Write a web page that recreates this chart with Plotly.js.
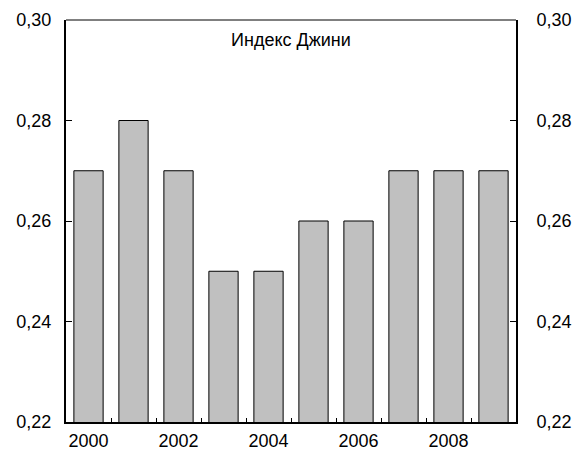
<!DOCTYPE html>
<html>
<head>
<meta charset="utf-8">
<script src="https://cdn.plot.ly/plotly-3.0.1.min.js"></script>
<style>html,body{margin:0;padding:0;background:#fff;}#chart{width:572px;height:452px;}</style>
</head>
<body>
<div id="chart"></div>
<script>
const years = [2000, 2001, 2002, 2003, 2004, 2005, 2006, 2007, 2008, 2009];
const gini = [0.27, 0.28, 0.27, 0.25, 0.25, 0.26, 0.26, 0.27, 0.27, 0.27];
const xTickVals = [2000, 2002, 2004, 2006, 2008];
const yTickVals = [0.22, 0.24, 0.26, 0.28, 0.30];
const chartTitle = 'Индекс Джини';

const fam = '"Liberation Sans", Arial, sans-serif';
const font = {family: fam, size: 18, color: '#000'};
const xRange = [years[0] - 0.5, years[years.length - 1] + 0.5];

const traces = [
  {
    type: 'bar', x: years, y: gini,
    width: 0.65,
    marker: {color: '#c0c0c0', line: {color: '#000', width: 1}},
    hoverinfo: 'skip'
  },
  {
    type: 'scatter', mode: 'markers', x: years, y: gini, xaxis: 'x2', yaxis: 'y2',
    marker: {opacity: 0, size: 1}, hoverinfo: 'skip', showlegend: false
  }
];

const yCommon = {
  range: [0.22, 0.30], tickvals: yTickVals, tickformat: '.2f',
  ticks: 'inside', ticklen: 6, tickwidth: 1, tickcolor: '#000',
  showgrid: false, zeroline: false, showline: true, linecolor: '#000', linewidth: 2,
  tickfont: font, fixedrange: true
};

const layout = {
  width: 572, height: 452,
  margin: {l: 66, r: 56, t: 20, b: 30},
  paper_bgcolor: '#fff', plot_bgcolor: '#fff',
  separators: ',.',
  showlegend: false,
  font: font,
  title: {text: chartTitle, font: {family: fam, size: 18, color: '#000'},
          x: 0.5, xref: 'paper', xanchor: 'center', y: 1 - 40/452, yref: 'container', yanchor: 'middle'},
  xaxis: {
    range: xRange, tickmode: 'linear', tick0: years[0] - 0.5, dtick: 1,
    ticks: 'inside', ticklen: 4, tickwidth: 1, tickcolor: '#000',
    showticklabels: false, showgrid: false, zeroline: false,
    showline: true, linecolor: '#000', linewidth: 2,
    fixedrange: true
  },
  xaxis2: {
    range: xRange, overlaying: 'x', anchor: 'y', side: 'bottom',
    tickmode: 'array', tickvals: xTickVals,
    ticks: 'outside', ticklen: 2, tickcolor: 'rgba(0,0,0,0)', tickfont: font,
    showgrid: false, zeroline: false, showline: false, fixedrange: true, automargin: false
  },
  yaxis: Object.assign({}, yCommon, {side: 'left', ticklabelstandoff: 9}),
  yaxis2: Object.assign({}, yCommon, {side: 'right', overlaying: 'y', anchor: 'x', ticklabelstandoff: 15}),
  shapes: [
    {type: 'line', xref: 'paper', yref: 'paper', x0: 0, x1: 1, y0: 1, y1: 1, line: {color: '#000', width: 1}}
  ]
};

Plotly.newPlot('chart', traces, layout, {displayModeBar: false, staticPlot: true});
</script>
</body>
</html>
